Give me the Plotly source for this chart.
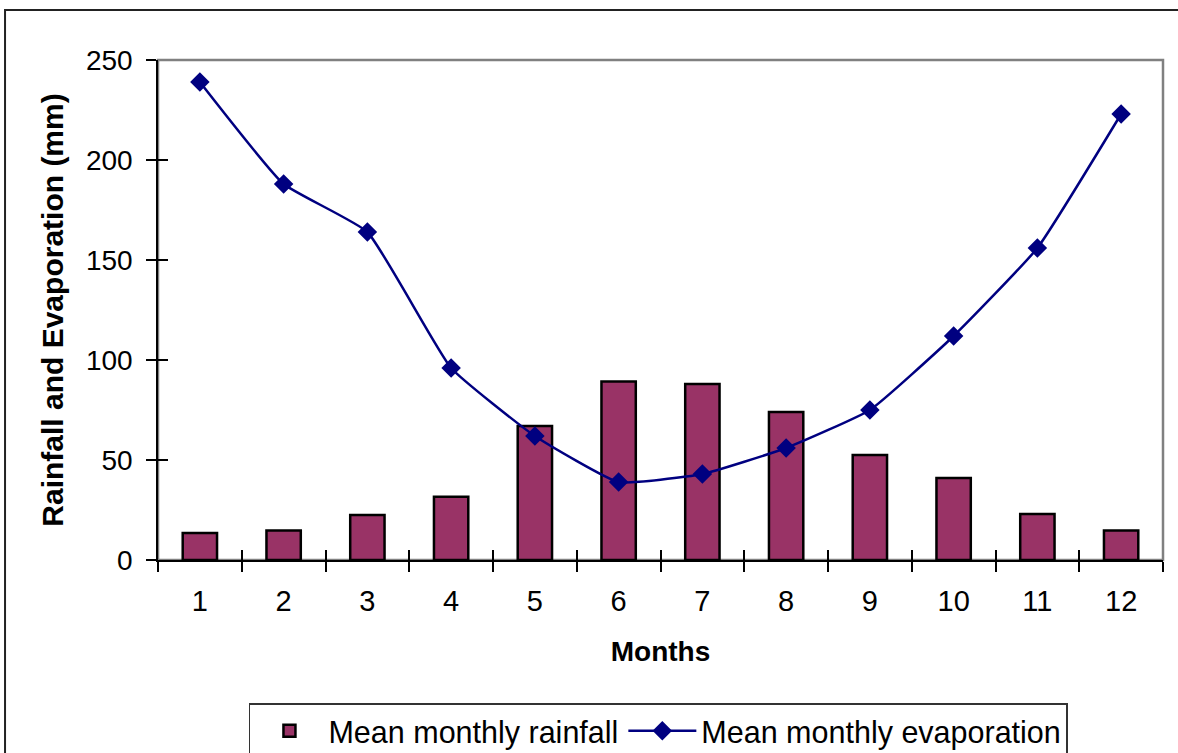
import plotly.graph_objects as go

# Monthly climate data
months = ["1", "2", "3", "4", "5", "6", "7", "8", "9", "10", "11", "12"]
rainfall = [13.5, 14.7, 22.5, 31.6, 67, 89.3, 88, 74, 52.5, 41, 23, 14.7]
evaporation = [239, 188, 164, 96, 62, 39, 43, 56, 75, 112, 156, 223]
y_ticks = [0, 50, 100, 150, 200, 250]

FONT = "Liberation Sans, Arial, sans-serif"

fig = go.Figure()

fig.add_trace(go.Bar(
    x=months, y=rainfall, name="Mean monthly rainfall",
    marker=dict(color="#993366", line=dict(color="black", width=2.5)),
))
fig.add_trace(go.Scatter(
    x=months, y=evaporation, name="Mean monthly evaporation",
    mode="lines+markers",
    line=dict(color="#000080", width=2.5, shape="spline", smoothing=0.4),
    marker=dict(symbol="diamond", size=15, color="#000080"),
))

n = len(months)
boundaries = [i - 0.5 for i in range(n + 1)]

fig.update_layout(
    width=1178, height=753,
    margin=dict(l=158, r=15, t=60, b=193, autoexpand=False),
    paper_bgcolor="white", plot_bgcolor="white",
    font=dict(family=FONT, size=28, color="black"),
    bargap=0.59,
    showlegend=True,
    legend=dict(
        orientation="h", x=0.0905, xanchor="left", y=-0.286, yanchor="top",
        bordercolor="#333333", borderwidth=1.5, bgcolor="white",
        font=dict(family=FONT, size=30.5, color="black"),
        itemwidth=68, tracegroupgap=0,
    ),
    xaxis=dict(
        type="category", range=[-0.5, n - 0.5],
        tickson="boundaries", ticks="outside", ticklen=10,
        tickcolor="black", tickwidth=1.5, showline=True, linecolor="black",
        linewidth=1.5, showgrid=False, zeroline=False,
        title=dict(text="<b>Months</b>", font=dict(size=28), standoff=26),
        tickfont=dict(size=29), ticklabelstandoff=14,
    ),
    xaxis2=dict(
        overlaying="x", range=[-0.5, n - 0.5], tickmode="array",
        tickvals=boundaries, ticks="inside", ticklen=10, tickcolor="black",
        tickwidth=1.5, showticklabels=False, showgrid=False, zeroline=False,
        showline=False, side="bottom", anchor="y",
    ),
    yaxis=dict(
        range=[0, 250], tickmode="array", tickvals=y_ticks,
        ticks="outside", ticklen=10, tickcolor="black", tickwidth=1.5,
        showline=True, linecolor="black", linewidth=1.5,
        showgrid=False, zeroline=False,
        title=dict(text="<b>Rainfall and Evaporation (mm)</b>",
                   font=dict(size=30), standoff=13),
        tickfont=dict(size=28), ticklabelstandoff=8,
    ),
    yaxis2=dict(
        overlaying="y", range=[0, 250], tickmode="array", tickvals=y_ticks,
        ticks="inside", ticklen=10, tickcolor="black", tickwidth=1.5,
        showticklabels=False, showgrid=False, zeroline=False,
        showline=False, side="left", anchor="x",
    ),
    shapes=[
        # gray frame around the plot area
        dict(type="rect", xref="paper", yref="paper", x0=0, x1=1, y0=0, y1=1,
             line=dict(color="#808080", width=2.5), layer="below"),
        # outer chart border
        dict(type="rect", xref="paper", yref="paper",
             x0=-0.1522, x1=1.05, y0=-0.45, y1=1.1,
             line=dict(color="#222222", width=2), layer="below"),
    ],
)

# invisible trace to activate the overlay axes carrying the crossing ticks
fig.add_trace(go.Scatter(x=[0], y=[0], xaxis="x2", yaxis="y2", mode="markers",
                         marker=dict(opacity=0), showlegend=False,
                         hoverinfo="skip"))

fig.write_html("out.html")
